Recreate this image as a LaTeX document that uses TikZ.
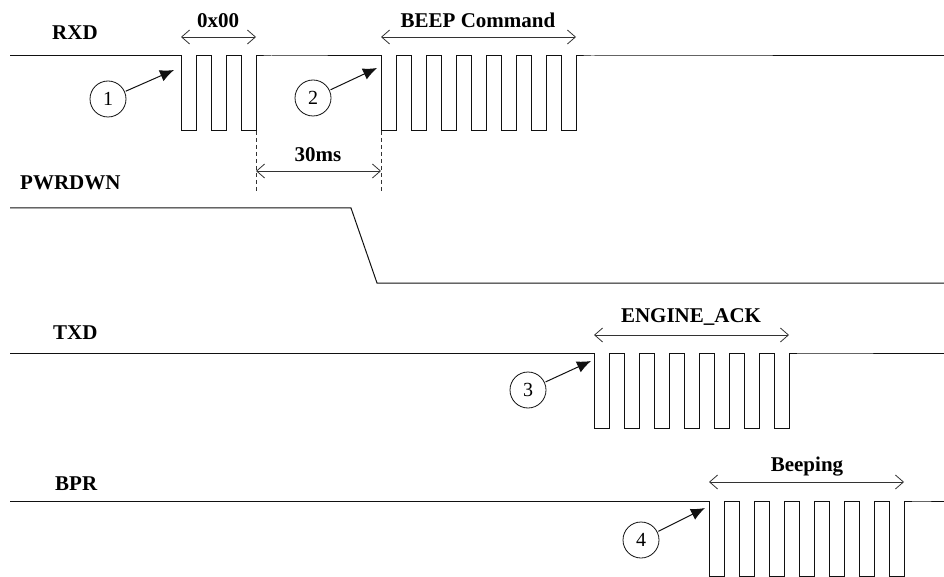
\documentclass[tikz,border=0pt]{standalone}
\usepackage{fontspec}
\setmainfont{Liberation Serif}
\usetikzlibrary{arrows.meta,calc,positioning}
\definecolor{Ink}{HTML}{111111}
\definecolor{Rule}{HTML}{333333}
\tikzset{
  wave/.style={line width=1pt, draw=Ink, line join=miter},
  signame/.style={anchor=base west, inner sep=0pt, font=\fontsize{21}{25}\selectfont\bfseries},
  spanlabel/.style={anchor=base, inner sep=0pt, font=\fontsize{21}{25}\selectfont\bfseries},
  span/.style={{Straight Barb[length=8pt,width=14pt]}-{Straight Barb[length=8pt,width=14pt]}, line width=0.8pt, draw=Rule},
  guide/.style={dash pattern=on 4pt off 3pt, line width=0.8pt, draw=Rule},
  marker/.style={circle, draw=Ink, line width=0.8pt, minimum size=36pt, inner sep=0pt,
    font=\fontsize{20}{22}\selectfont},
  pointer/.style={-{Latex[length=14pt,width=12pt]}, line width=1pt, draw=Ink, shorten <=1pt}
}

\begin{document}
\begin{tikzpicture}[x=1pt,y=-1pt]
  \useasboundingbox (0,0) rectangle (944,577);

  \node[signame] (rxd) at (52,40) {RXD};
  \node[signame] (pwrdwn) at (20,190) {PWRDWN};
  \node[signame] (txd) at (53,339) {TXD};
  \node[signame] (bpr) at (55,490) {BPR};

  \draw[wave] (10,56) -- (181,56)
    \foreach \k in {1,...,3} { -- ++(0,75) -- ++(15,0) -- ++(0,-75) -- ++(15,0) }
    -- (381,56)
    \foreach \k in {1,...,7} { -- ++(0,75) -- ++(15,0) -- ++(0,-75) -- ++(15,0) }
    -- (944,56);
  \draw[wave] (10,208) -- (351,208) -- (377,283) -- (944,283);
  \draw[wave] (10,353) -- (594,353)
    \foreach \k in {1,...,7} { -- ++(0,75) -- ++(15,0) -- ++(0,-75) -- ++(15,0) }
    -- (944,353);
  \draw[wave] (10,501) -- (709,501)
    \foreach \k in {1,...,7} { -- ++(0,75) -- ++(15,0) -- ++(0,-75) -- ++(15,0) }
    -- (944,501);

  \coordinate (zeroL) at (181,37);
  \coordinate (zeroR) at (256,37);
  \coordinate (beepL) at (381,37);
  \coordinate (beepR) at (576,37);
  \coordinate (gapL) at (256,171);
  \coordinate (gapR) at (381,171);
  \coordinate (ackL) at (594,335);
  \coordinate (ackR) at (789,335);
  \coordinate (bpL) at (709,482);
  \coordinate (bpR) at (904,482);

  \draw[span] (zeroL) -- (zeroR);
  \draw[span] (beepL) -- (beepR);
  \draw[span] (gapL) -- (gapR);
  \draw[span] (ackL) -- (ackR);
  \draw[span] (bpL) -- (bpR);
  \draw[guide] (256,131) -- (256,192);
  \draw[guide] (381,131) -- (381,192);

  \node[spanlabel] (zeroTxt) at (218,28) {0x00};
  \node[spanlabel] (beepTxt) at (478,28) {BEEP Command};
  \node[spanlabel] (gapTxt) at (318,162) {30ms};
  \node[spanlabel] (ackTxt) at (691,322) {ENGINE\_ACK};
  \node[spanlabel] (bpTxt) at (807,471) {Beeping};

  \node[marker] (m1) at (108,99) {1};
  \node[marker] (m2) at (313,98) {2};
  \node[marker] (m3) at (528,390) {3};
  \node[marker] (m4) at (641,540) {4};
  \coordinate (t1) at (174,70);
  \coordinate (t2) at (377,68);
  \coordinate (t3) at (591,361);
  \coordinate (t4) at (705,508);
  \draw[pointer] (m1) -- (t1);
  \draw[pointer] (m2) -- (t2);
  \draw[pointer] (m3) -- (t3);
  \draw[pointer] (m4) -- (t4);
\end{tikzpicture}
\end{document}
